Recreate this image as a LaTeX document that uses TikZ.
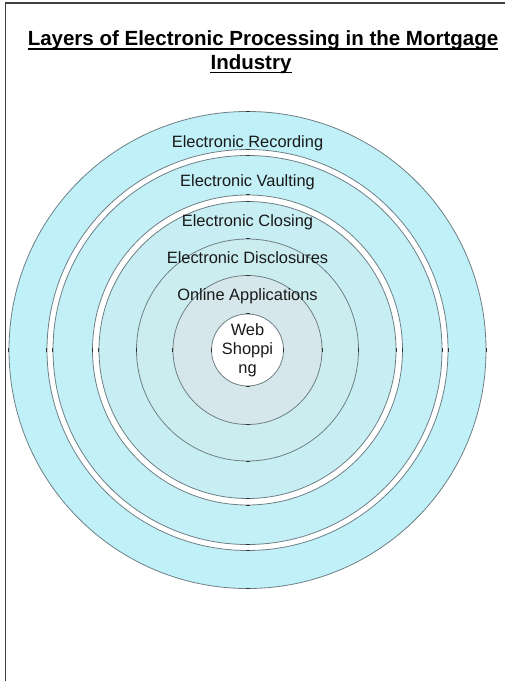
\documentclass[tikz,border=0pt]{standalone}
\usepackage{fontspec}
\setmainfont{Liberation Sans}
\definecolor{ringA}{HTML}{C0F0F8}
\definecolor{ringB}{HTML}{C3F0F6}
\definecolor{ringC}{HTML}{C7EEF3}
\definecolor{ringD}{HTML}{CBEDF0}
\definecolor{ringE}{HTML}{D5E7EA}
\definecolor{edge}{HTML}{6E8086}
\begin{document}
\begin{tikzpicture}[x=1bp,y=-1bp,
  ring/.style={circle,draw=edge,line width=0.8bp,inner sep=0pt},
  tick/.style={draw=black!80,line width=0.9bp},
  lbl/.style={inner sep=0pt,font=\fontsize{16.4bp}{19bp}\selectfont,text=black!90},
  ttl/.style={inner sep=0pt,font=\fontsize{20.5bp}{24bp}\selectfont\bfseries},
  uline/.style={line width=1.4bp},
  frame/.style={draw=black!75,line width=1.6bp}]
\useasboundingbox (0,0) rectangle (505,681);
\clip (0,0) rectangle (505,681);
\fill[white] (0,0) rectangle (505,681);
\draw[frame] (5.5,3) rectangle (540,700);

% title, underlined just below the baseline
\node[ttl,anchor=base] (t1) at (263,45.7) {Layers of Electronic Processing in the Mortgage};
\node[ttl,anchor=base] (t2) at (251,69.5) {Industry};
\draw[uline] ([yshift=-3.3bp]t1.base west) -- ([yshift=-3.3bp]t1.base east);
\draw[uline] ([yshift=-3.3bp]t2.base west) -- ([yshift=-3.3bp]t2.base east);

% concentric layers, outermost first
\coordinate (ctr) at (247.5,350);
\node[ring,fill=ringA,minimum size=477bp] (recording) at (ctr) {};
\node[ring,fill=white,minimum size=401bp] (gapA) at (ctr) {};
\node[ring,fill=ringB,minimum size=389bp] (vaulting) at (ctr) {};
\node[ring,fill=white,minimum size=310bp] (gapB) at (ctr) {};
\node[ring,fill=ringC,minimum size=297bp] (closing) at (ctr) {};
\node[ring,fill=ringD,minimum size=222bp] (disclosures) at (ctr) {};
\node[ring,fill=ringE,minimum size=149bp] (online) at (ctr) {};
\node[ring,fill=white,minimum size=72bp] (web) at (ctr) {};

% small marks at the quadrant points of each circle
\foreach \n in {recording,gapA,vaulting,gapB,closing,disclosures,online,web}{
  \draw[tick] ([xshift=-2bp]\n.north) -- ([xshift=2bp]\n.north);
  \draw[tick] ([xshift=-2bp]\n.south) -- ([xshift=2bp]\n.south);
  \draw[tick] ([yshift=-2bp]\n.east) -- ([yshift=2bp]\n.east);
  \draw[tick] ([yshift=-2bp]\n.west) -- ([yshift=2bp]\n.west);
}

% layer labels
\node[lbl,anchor=base] (lrec) at (247.5,147.3) {Electronic Recording};
\node[lbl,anchor=base] (lvau) at (247.5,186.7) {Electronic Vaulting};
\node[lbl,anchor=base] (lclo) at (247.5,226.2) {Electronic Closing};
\node[lbl,anchor=base] (ldis) at (247.5,263.3) {Electronic Disclosures};
\node[lbl,anchor=base] (lonl) at (247.5,300.2) {Online Applications};
\node[lbl,align=center] (lweb) at (247.5,350) {Web\\Shoppi\\ng};
\end{tikzpicture}
\end{document}
